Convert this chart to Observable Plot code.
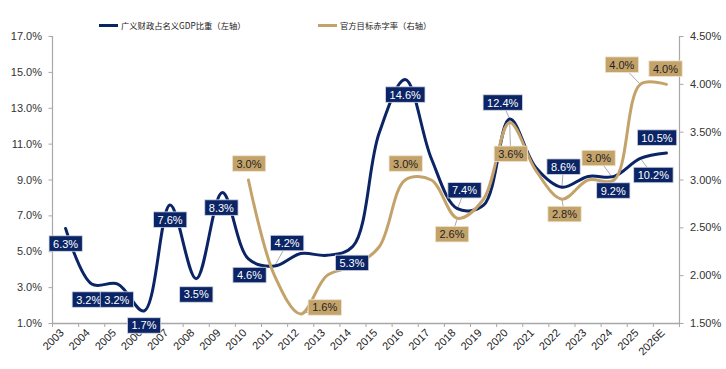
<!DOCTYPE html>
<html><head><meta charset="utf-8">
<script src="https://cdn.jsdelivr.net/npm/d3@7"></script>
<script src="https://cdn.jsdelivr.net/npm/@observablehq/plot@0.6"></script>
<style>
body{margin:0;background:#fff;font-family:"Liberation Sans",Arial,sans-serif;}
#legend{position:relative;height:30px;width:726px;}
.sw{position:absolute;height:3.5px;width:19px;}
.lt{position:absolute;font-family:"Noto Sans CJK SC",sans-serif;font-size:8.3px;color:#222;line-height:10px;white-space:nowrap;}
#chart svg{display:block;}
</style></head><body>
<div id="legend"></div>
<div id="chart"></div>
<script>
// ---- data ----
const years = ["2003","2004","2005","2006","2007","2008","2009","2010","2011","2012","2013","2014","2015","2016","2017","2018","2019","2020","2021","2022","2023","2024","2025","2026E"];
const broadFiscal = [6.3,3.2,3.2,1.7,7.6,3.5,8.3,4.6,4.2,4.9,4.8,5.3,11.6,14.6,10.2,7.4,7.6,12.4,9.7,8.6,9.2,9.2,10.2,10.5];
const deficitTarget = [null,null,null,null,null,null,null,3.0,2.0,1.6,2.0,2.1,2.3,3.0,3.0,2.6,2.8,3.6,3.1,2.8,3.0,3.0,4.0,4.0];
const leftTicks = [1,3,5,7,9,11,13,15,17];
const rightTicks = [1.5,2.0,2.5,3.0,3.5,4.0,4.5];
const seriesNames = ["广义财政占名义GDP比重（左轴）","官方目标赤字率（右轴）"];
const navyLabelYears = ["2003","2004","2005","2006","2007","2008","2009","2010","2011","2014","2016","2018","2020","2022","2024","2025","2026E"];
const goldLabelYears = ["2010","2012","2016","2018","2020","2022","2024","2025","2026E"];

// ---- layout / style ----
const NAVY = "#0b2465", GOLD = "#c4a36b";
const W = 726, H = 339, ML = 52, MR = 47, MT = 6, MB = 46;
const BW = (W - ML - MR) / years.length;        // px per category
const PXU = (H - MT - MB) / 16;                 // px per left-axis unit
// label box offsets in px from the point [dx, dy, leader]
const navyLabelOffsets = {
  "2003":[0,15.6,0],"2004":[-3,16,0],"2005":[-1,16,0],"2006":[0,15,0],"2007":[0,15,0],
  "2008":[0,16.3,0],"2009":[-1,15.5,0],"2010":[1,16.6,0],"2011":[12.5,-22.6,1],
  "2014":[-1,17,0],"2016":[0,15.5,0],"2018":[7,-18,1],"2020":[-7,-16,1],
  "2022":[1.5,-20,1],"2024":[-1,14.6,0],"2025":[13,17,1],"2026E":[-9.5,-15,0]
};
const goldLabelOffsets = {
  "2010":[0.5,-16,0],"2012":[24,-6,1],"2016":[0.4,-16,0],"2018":[-5.5,16.4,1],
  "2020":[1,31.7,1],"2022":[2.5,15.4,1],"2024":[-15.7,-21.5,1],"2025":[-18.5,-19.2,1],"2026E":[-1,-15.2,0]
};

const toLeft = v => 1 + (v - 1.5) * 16 / 3;
const fromLeft = v => 1.5 + (v - 1) * 3 / 16;

// legend
const legend = document.getElementById("legend");
legend.innerHTML = `
<div class="sw" style="left:99px;top:23.5px;background:${NAVY}"></div>
<div class="lt" style="left:121px;top:20px">${seriesNames[0]}</div>
<div class="sw" style="left:318px;top:23.5px;background:${GOLD}"></div>
<div class="lt" style="left:340px;top:20px">${seriesNames[1]}</div>`;

const xi = i => i + 0.5;
const navyIdx = navyLabelYears.map(y => years.indexOf(y));
const goldIdx = goldLabelYears.map(y => years.indexOf(y));
const nOff = i => navyLabelOffsets[years[i]];
const gOff = i => goldLabelOffsets[years[i]];
const navyLX = i => xi(i) + nOff(i)[0] / BW;
const navyLY = i => broadFiscal[i] - nOff(i)[1] / PXU;
const goldLX = i => xi(i) + gOff(i)[0] / BW;
const goldLY = i => toLeft(deficitTarget[i]) - gOff(i)[1] / PXU;

const plot = Plot.plot({
  width: W, height: H,
  marginLeft: ML, marginRight: MR, marginTop: MT, marginBottom: MB,
  style: {fontFamily: "'Liberation Sans', Arial, sans-serif", background: "#fff"},
  x: {type: "linear", domain: [0, years.length], axis: null},
  y: {domain: [1, 17], axis: null},
  marks: [
    Plot.ruleX([0, years.length], {stroke: "#a8a8a8", strokeWidth: 1.2}),
    Plot.ruleY([1], {stroke: "#a8a8a8", strokeWidth: 1.5}),
    Plot.axisY(leftTicks, {anchor: "left", tickSize: 3.5, tickPadding: 7, fontSize: 11,
      stroke: "#a8a8a8", fill: "#333", tickFormat: d => d.toFixed(1) + "%"}),
    Plot.axisY(rightTicks.map(toLeft), {anchor: "right", tickSize: 3.5, tickPadding: 7, fontSize: 11,
      stroke: "#a8a8a8", fill: "#333", textAnchor: "start", tickFormat: d => fromLeft(d).toFixed(2) + "%"}),
    Plot.axisX(d3.range(years.length + 1), {anchor: "bottom", tickSize: 4, stroke: "#a8a8a8", tickFormat: () => ""}),
    Plot.text(years, {x: (d, i) => xi(i), frameAnchor: "bottom", text: d => d, rotate: -45,
      textAnchor: "end", dx: -1, dy: 10, fontSize: 11, fill: "#222"}),
    // leader lines
    Plot.link(navyIdx.filter(i => nOff(i)[2]), {x1: xi, y1: i => broadFiscal[i], x2: navyLX, y2: navyLY,
      stroke: "#a0a0a0", strokeWidth: 0.9}),
    Plot.link(goldIdx.filter(i => gOff(i)[2]), {x1: xi, y1: i => toLeft(deficitTarget[i]), x2: goldLX, y2: goldLY,
      stroke: "#a0a0a0", strokeWidth: 0.9}),
    Plot.line(broadFiscal, {x: (d, i) => xi(i), y: d => d, curve: "catmull-rom", stroke: NAVY, strokeWidth: 3}),
    Plot.line(deficitTarget, {x: (d, i) => xi(i), y: d => d == null ? NaN : toLeft(d), curve: "catmull-rom",
      stroke: GOLD, strokeWidth: 3}),
    Plot.text(navyIdx, {x: navyLX, y: navyLY, text: i => broadFiscal[i].toFixed(1) + "%",
      fill: "#fff", fontSize: 11, className: "navy-labels"}),
    Plot.text(goldIdx, {x: goldLX, y: goldLY, text: i => deficitTarget[i].toFixed(1) + "%",
      fill: "#222", fontSize: 11, className: "gold-labels"})
  ]
});
document.getElementById("chart").appendChild(plot);

function boxes(groupEl, fill, stroke) {
  if (!groupEl) return;
  groupEl.querySelectorAll("text").forEach(t => {
    const b = t.getBBox();
    const r = document.createElementNS("http://www.w3.org/2000/svg", "rect");
    const padX = 4, h = 15.5;
    r.setAttribute("x", b.x - padX);
    r.setAttribute("y", b.y + b.height / 2 - h / 2);
    r.setAttribute("width", b.width + 2 * padX);
    r.setAttribute("height", h);
    r.setAttribute("fill", fill);
    r.setAttribute("stroke", stroke);
    r.setAttribute("stroke-width", 0.8);
    const tr = t.getAttribute("transform");
    if (tr) r.setAttribute("transform", tr);
    t.parentNode.insertBefore(r, t);
  });
}
let gNavy = plot.querySelector("g.navy-labels"), gGold = plot.querySelector("g.gold-labels");
if (!gNavy || !gGold) {
  const tg = plot.querySelectorAll('g[aria-label="text"]');
  gNavy = tg[tg.length - 2]; gGold = tg[tg.length - 1];
}
boxes(gNavy, NAVY, "#d5d9e3");
boxes(gGold, GOLD, "#eee4d0");
</script>
</body></html>
